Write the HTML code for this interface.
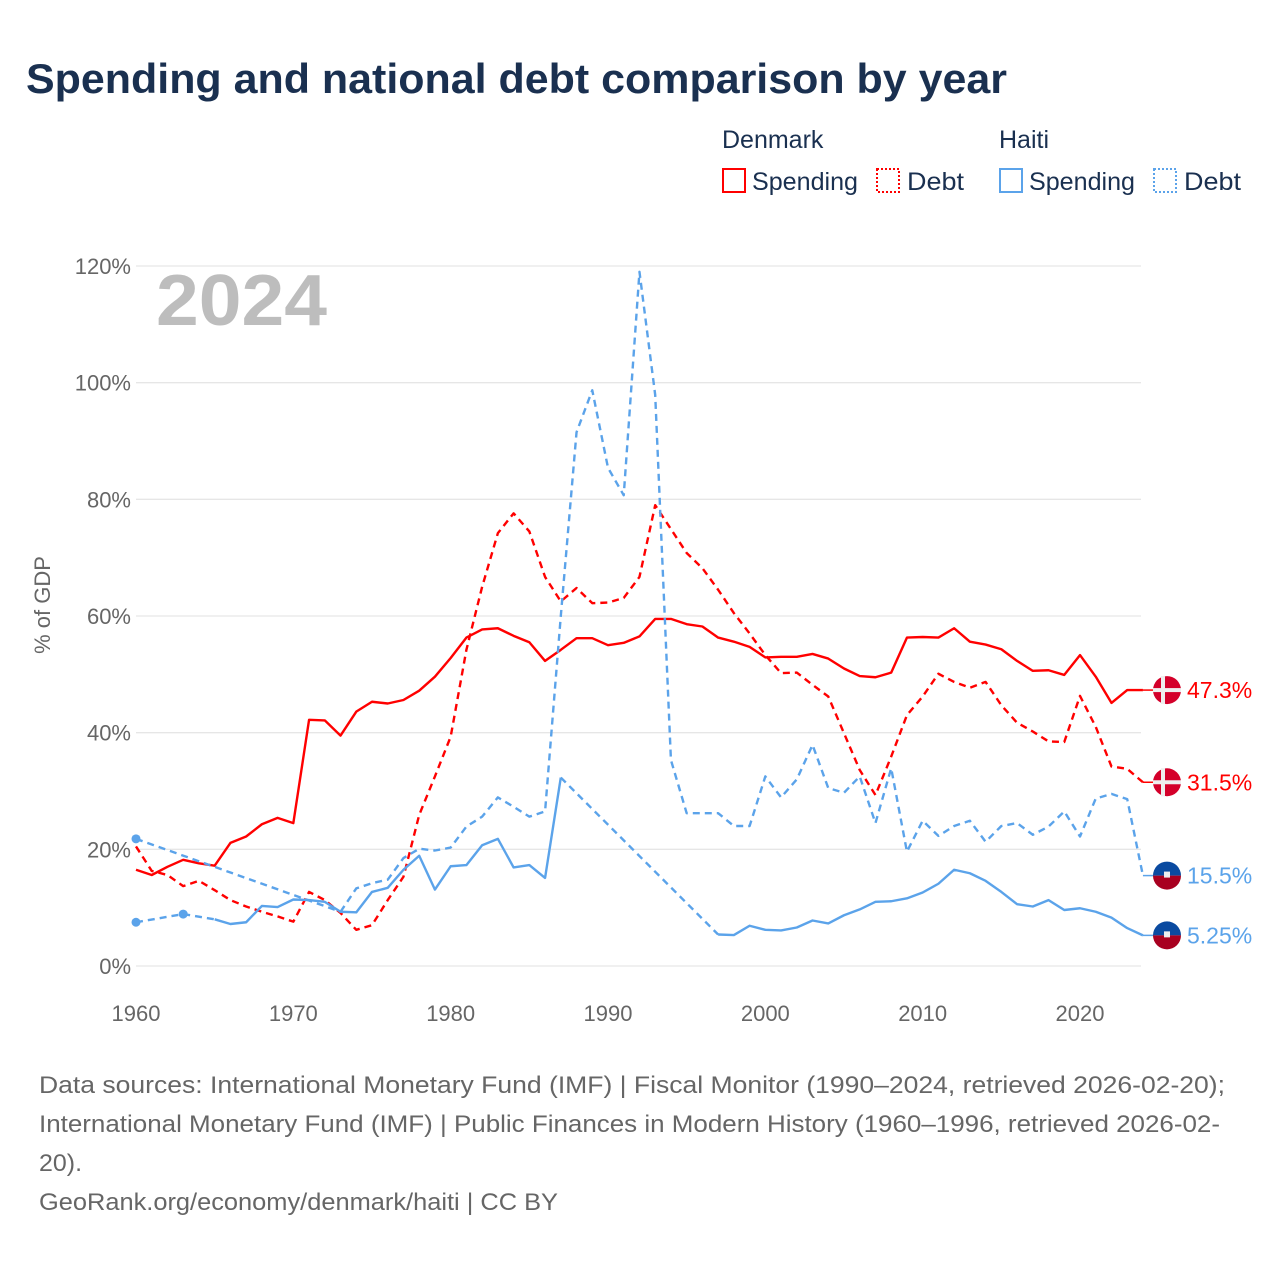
<!DOCTYPE html>
<html><head><meta charset="utf-8"><style>
body{margin:0;width:1280px;height:1280px;background:#fff;overflow:hidden;font-family:"Liberation Sans",sans-serif}
</style></head><body>
<svg id="chart" width="1280" height="1280" viewBox="0 0 1280 1280" xmlns="http://www.w3.org/2000/svg">
<text x="26" y="93" font-size="42" font-weight="bold" fill="#1a3050" textLength="981" lengthAdjust="spacingAndGlyphs">Spending and national debt comparison by year</text>
<g font-size="25" fill="#1a3050">
<text x="722" y="148">Denmark</text>
<text x="999" y="148">Haiti</text>
<g><rect x="723" y="169" width="22" height="23" fill="none" stroke="#f00" stroke-width="2"/><text x="752" y="190" textLength="106" lengthAdjust="spacingAndGlyphs">Spending</text></g>
<g><rect x="877" y="169" width="22" height="23" fill="none" stroke="#f00" stroke-width="2" stroke-dasharray="2,2"/><text x="907" y="190" textLength="57" lengthAdjust="spacingAndGlyphs">Debt</text></g>
<g><rect x="1000" y="169" width="22" height="23" fill="none" stroke="#5ba3ea" stroke-width="2"/><text x="1029" y="190" textLength="106" lengthAdjust="spacingAndGlyphs">Spending</text></g>
<g><rect x="1154" y="169" width="22" height="23" fill="none" stroke="#5ba3ea" stroke-width="2" stroke-dasharray="2,2"/><text x="1184" y="190" textLength="57" lengthAdjust="spacingAndGlyphs">Debt</text></g>
</g>
<text x="156" y="325" font-size="72" font-weight="bold" fill="#bdbdbd" textLength="171" lengthAdjust="spacingAndGlyphs">2024</text>
<text transform="translate(50,605) rotate(-90)" text-anchor="middle" font-size="22" fill="#666">% of GDP</text>
<g id="grid"></g><g id="yt"></g><g id="xt"></g><g id="series"></g><g id="ends"></g>
<g font-size="24" fill="#666">
<text x="39" y="1093" textLength="1186" lengthAdjust="spacingAndGlyphs">Data sources: International Monetary Fund (IMF) | Fiscal Monitor (1990–2024, retrieved 2026-02-20);</text>
<text x="39" y="1132" textLength="1181" lengthAdjust="spacingAndGlyphs">International Monetary Fund (IMF) | Public Finances in Modern History (1960–1996, retrieved 2026-02-</text>
<text x="39" y="1171" textLength="43" lengthAdjust="spacingAndGlyphs">20).</text>
<text x="39" y="1210" textLength="519" lengthAdjust="spacingAndGlyphs">GeoRank.org/economy/denmark/haiti | CC BY</text>
</g>
</svg>
<script>
const years=[];for(let y=1960;y<=2024;y++)years.push(y);
const yTicks=[0,20,40,60,80,100,120];
const xTicks=[1960,1970,1980,1990,2000,2010,2020];
const dkSpending=[16.5,15.6,17.0,18.2,17.6,17.2,21.1,22.2,24.3,25.4,24.5,42.2,42.1,39.5,43.6,45.3,45.0,45.6,47.2,49.6,52.8,56.3,57.7,57.9,56.6,55.5,52.3,54.2,56.2,56.2,55.0,55.4,56.5,59.5,59.5,58.6,58.2,56.3,55.6,54.7,52.9,53.0,53.0,53.5,52.7,51.0,49.7,49.5,50.3,56.3,56.4,56.3,57.9,55.6,55.1,54.3,52.3,50.6,50.7,49.9,53.3,49.6,45.1,47.3,47.3];
const dkDebt=[20.5,16.3,15.6,13.7,14.6,13.0,11.3,10.2,9.3,8.5,7.6,12.7,11.3,9.1,6.2,7.0,11.3,15.3,25.9,32.5,39.3,54.2,65.0,74.2,77.6,74.5,66.7,62.5,64.8,62.2,62.3,63.1,66.7,79.0,74.9,70.8,68.2,64.5,60.5,57.0,53.3,50.2,50.3,48.2,46.2,39.9,33.6,29.3,35.9,43.0,46.2,50.1,48.7,47.7,48.7,44.7,41.7,40.2,38.5,38.4,46.3,41.0,34.2,33.8,31.5];
const htSpending=[7.5,null,null,8.9,null,8.0,7.2,7.5,10.3,10.1,11.4,11.3,11.0,9.3,9.2,12.7,13.4,16.5,18.9,13.1,17.1,17.3,20.7,21.8,16.9,17.3,15.1,32.3,null,null,null,null,null,null,null,null,null,5.4,5.3,6.9,6.2,6.1,6.6,7.8,7.3,8.7,9.7,11.0,11.1,11.6,12.6,14.1,16.5,15.9,14.6,12.7,10.6,10.2,11.3,9.6,9.9,9.3,8.3,6.5,5.25];
const htDebt=[21.8,null,null,null,null,null,null,null,null,null,null,null,null,9.3,13.3,14.2,14.8,18.5,20.1,19.8,20.3,23.9,25.6,28.9,27.3,25.6,26.5,60.0,91.5,98.7,85.4,80.7,119.0,97.9,35.3,26.2,26.2,26.2,24.0,24.0,32.5,28.9,32.0,37.9,30.5,29.7,32.5,24.5,33.9,19.6,24.9,22.3,24.0,24.9,21.3,24.0,24.5,22.5,23.9,26.5,22.2,28.7,29.5,28.6,15.5];
const endLabels=["47.3%","31.5%","15.5%","5.25%"];
const NS="http://www.w3.org/2000/svg";
const X=y=>136+(y-1960)*(944/60);
const Y=v=>966-v*(700/120);
function mk(t,a,p){const e=document.createElementNS(NS,t);for(const k in a)e.setAttribute(k,a[k]);p.appendChild(e);return e;}
const grid=document.getElementById('grid'),yt=document.getElementById('yt'),xt=document.getElementById('xt');
yTicks.forEach(v=>{
 const l=mk('line',{x1:136,x2:1141,y1:Y(v),y2:Y(v),stroke:'#e6e6e6','stroke-width':1.3},grid);
 
 
 const t=mk('text',{x:131,y:Y(v)+8,'text-anchor':'end','font-size':22,fill:'#666'},yt);t.textContent=v+'%';
 
 
});
xTicks.forEach(v=>{
 const t=mk('text',{x:X(v),y:1021,'text-anchor':'middle','font-size':22,fill:'#666'},xt);t.textContent=v;
 
 
});
const ser=document.getElementById('series');
function draw(vals,color,dashed,name){
 const g=mk('g',{},ser);
 
 
 let seg=[],segs=[],prev=null;
 vals.forEach((v,i)=>{
  if(v==null){return;}
  const p=[X(years[i]),Y(v)];
  if(prev&&prev.i!==i-1){segs.push(seg);mk('path',{d:`M${prev.p[0]},${prev.p[1]}L${p[0]},${p[1]}`,fill:'none',stroke:color,'stroke-width':2.4,'stroke-dasharray':'7,5'},g);seg=[];}
  seg.push(p);prev={i,p};
 });
 segs.push(seg);
 segs.forEach(s=>{
  if(s.length===1){mk('circle',{cx:s[0][0],cy:s[0][1],r:4.5,fill:color},g);return;}
  mk('path',{d:'M'+s.map(p=>p.join(',')).join('L'),fill:'none',stroke:color,'stroke-width':2.4,'stroke-dasharray':dashed?'7,5':'none','stroke-linejoin':'round'},g);
 });
}
draw(dkSpending,'#ff0000',false,'denmark-spending-line');
draw(dkDebt,'#ff0000',true,'denmark-debt-line');
draw(htSpending,'#5ba3ea',false,'haiti-spending-line');
draw(htDebt,'#5ba3ea',true,'haiti-debt-line');
const ends=document.getElementById('ends');
const finals=[[dkSpending,'#ff0000','dk'],[dkDebt,'#ff0000','dk'],[htDebt,'#5ba3ea','ht'],[htSpending,'#5ba3ea','ht']];
finals.forEach((f,k)=>{
 const v=f[0][f[0].length-1],y=Y(v),x0=X(2024);
 const g=mk('g',{},ends);
 
 
 mk('line',{x1:x0,x2:1154,y1:y,y2:y,stroke:f[1],'stroke-width':1.5},g);
 const cx=1167;
 if(f[2]==='dk'){
  mk('circle',{cx:cx,cy:y,r:14,fill:'#d4002a'},g);
  mk('rect',{x:cx-6,y:y-14,width:4,height:28,fill:'#eee'},g);
  mk('rect',{x:cx-14,y:y-2,width:28,height:4,fill:'#eee'},g);
 }else{
  mk('path',{d:`M${cx-14},${y}A14,14 0 0 1 ${cx+14},${y}Z`,fill:'#0a4aa0'},g);
  mk('path',{d:`M${cx-14},${y}A14,14 0 0 0 ${cx+14},${y}Z`,fill:'#a80020'},g);
  mk('rect',{x:cx-3,y:y-4,width:6,height:6,fill:'#eee'},g);
 }
 const t=mk('text',{x:1187,y:y+8,'font-size':23,fill:f[1]},g);t.textContent=endLabels[k];
});
</script>
</body></html>
